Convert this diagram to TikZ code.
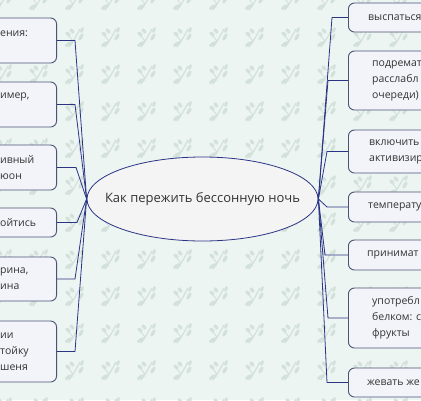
\documentclass[tikz,border=0pt]{standalone}
\usepackage{fontspec}
\setmainfont{Open Sans}
\usetikzlibrary{positioning, shapes.geometric}
\definecolor{bgmint}{HTML}{EDF5F3}
\definecolor{leafgreen}{HTML}{D3E1DB}
\definecolor{linknavy}{HTML}{2B3385}
\definecolor{boxedge}{HTML}{4B5375}
\definecolor{boxfill}{HTML}{F3F4FA}
\definecolor{rootfill}{HTML}{F4F4F4}
\definecolor{textgray}{HTML}{333333}
\newcommand{\sprig}[2]{%
  \begin{scope}[shift={(#1,#2)}]
    \draw[leafgreen, line width=1.3pt] (-6,9) .. controls (-1,2) .. (5,-9);
    \draw[leafgreen, line width=1pt] (-2,3) -- (-7,-3);
    \fill[leafgreen, rotate around={30:(-6,6)}] (-6,6) ellipse (4.5pt and 2pt);
    \fill[leafgreen, rotate around={-40:(-7,-4)}] (-7,-4) ellipse (3pt and 1.8pt);
    \fill[leafgreen, rotate around={-50:(-3,-7)}] (-3,-7) ellipse (3pt and 1.8pt);
    \fill[leafgreen, rotate around={60:(6,-1)}] (6,-1) ellipse (4pt and 1.8pt);
    \fill[leafgreen, rotate around={70:(7,-8)}] (7,-8) ellipse (3pt and 1.6pt);
  \end{scope}}

\begin{document}
\begin{tikzpicture}[x=1pt, y=-1pt,
  topic/.style={draw=boxedge, fill=boxfill, rounded corners=6pt,
                line width=0.9pt, minimum width=160pt, inner sep=0pt},
  word/.style={font=\fontsize{10.5}{16}\selectfont, text=textgray,
               align=left, inner sep=0pt},
  conn/.style={draw=linknavy, line width=0.8pt}
]
  \fill[bgmint] (0,0) rectangle (421,400);
  \useasboundingbox (0,0) rectangle (421,400);

  % background leaves
  \foreach \row in {0,...,11}
    \foreach \col in {0,...,12} {
      \pgfmathsetmacro{\sx}{\col*36 + 3}
      \pgfmathsetmacro{\sy}{\row*37 + 1}
      \sprig{\sx}{\sy}
    }

  % central topic
  \node[draw=linknavy, fill=rootfill, ellipse, line width=0.8pt,
        minimum width=231pt, minimum height=84pt, inner xsep=-30pt,
        inner ysep=0pt, font=\fontsize{13}{16}\selectfont, text=textgray]
    (root) at (202.5,199) {Как пережить бессонную ночь};

  % left topics
  \node[topic, minimum height=45pt, anchor=east] (l1) at (57,40.5) {};
  \node[topic, minimum height=45pt, anchor=east] (l2) at (57,104.5) {};
  \node[topic, minimum height=45pt, anchor=east] (l3) at (57,167.5) {};
  \node[topic, minimum height=29pt, anchor=east] (l4) at (57,222.5) {};
  \node[topic, minimum height=44pt, anchor=east] (l5) at (57,279) {};
  \node[topic, minimum height=61pt, anchor=east] (l6) at (57,351.5) {};

  \node[word, anchor=west] (l1t) at (0,33.5) {ения:};
  \node[word, anchor=west] (l2t) at (0,97) {имер,};
  \node[word, anchor=west] (l3t) at (0,168) {ивный\\юон};
  \node[word, anchor=west] (l4t) at (0,222.5) {ойтись};
  \node[word, anchor=west] (l5t) at (0,279) {рина,\\ина};
  \node[word, anchor=west] (l6t) at (0,351.5) {ии\\тойку\\шеня};

  % right topics
  \node[topic, minimum height=29pt, anchor=west] (r1) at (348,17.5) {};
  \node[topic, minimum height=59pt, anchor=west] (r2) at (348,80.5) {};
  \node[topic, minimum height=43pt, anchor=west] (r3) at (348,151.5) {};
  \node[topic, minimum height=30pt, anchor=west] (r4) at (348,207) {};
  \node[topic, minimum height=30pt, anchor=west] (r5) at (348,255) {};
  \node[topic, minimum height=60pt, anchor=west] (r6) at (348,318) {};
  \node[topic, minimum height=29pt, anchor=west] (r7) at (348,382.5) {};

  \node[word, anchor=west] (r1t) at (368,17.5) {выспаться};
  \node[word, anchor=west] (r2t) at (372,80.5) {подремат\\расслабл\\очереди)};
  \node[word, anchor=west] (r3t) at (369,151.5) {включить\\активизир};
  \node[word, anchor=west] (r4t) at (368,207) {температу};
  \node[word, anchor=west] (r5t) at (367,255) {принимат};
  \node[word, anchor=west] (r6t) at (372,318) {употребл\\белком: с\\фрукты};
  \node[word, anchor=west] (r7t) at (367,382.5) {жевать же};

  % connectors
  \draw[conn] (root.west) -- ([xshift=18pt]l1.east) -- (l1.east);
  \draw[conn] (root.west) -- ([xshift=18pt]l2.east) -- (l2.east);
  \draw[conn] (root.west) -- ([xshift=19pt]l3.east) -- (l3.east);
  \draw[conn] (root.west) -- ([xshift=20pt]l4.east) -- (l4.east);
  \draw[conn] (root.west) -- ([xshift=18pt]l5.east) -- (l5.east);
  \draw[conn] (root.west) -- ([xshift=18pt]l6.east) -- (l6.east);

  \draw[conn] (root.east) -- ([xshift=-16pt]r1.west) -- (r1.west);
  \draw[conn] (root.east) -- ([xshift=-20pt]r2.west) -- (r2.west);
  \draw[conn] (root.east) -- ([xshift=-21pt]r3.west) -- (r3.west);
  \draw[conn] (root.east) -- ([xshift=-21pt]r4.west) -- (r4.west);
  \draw[conn] (root.east) -- ([xshift=-23pt]r5.west) -- (r5.west);
  \draw[conn] (root.east) -- ([xshift=-20pt]r6.west) -- (r6.west);
  \draw[conn] (root.east) -- ([xshift=-21pt]r7.west) -- (r7.west);
\end{tikzpicture}
\end{document}
